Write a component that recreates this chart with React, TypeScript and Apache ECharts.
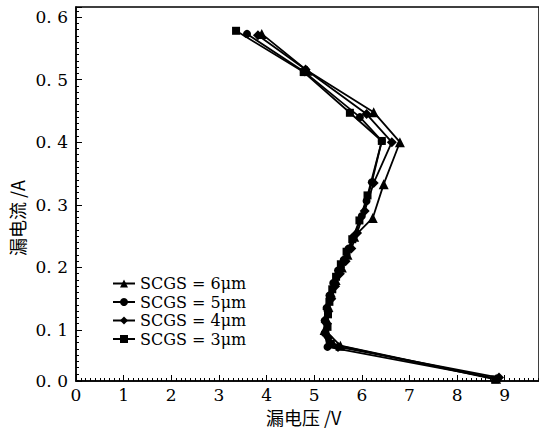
import React, { useEffect, useRef } from "react";
import * as echarts from "echarts";

const seriesNames = ["SCGS = 6μm", "SCGS = 5μm", "SCGS = 4μm", "SCGS = 3μm"];
const seriesSymbols = ["triangle", "circle", "diamond", "rect"];

const v6 = [8.82, 5.55, 5.22, 5.24, 5.28, 5.35, 5.45, 5.58, 5.70, 5.84, 6.23, 6.46, 6.80, 6.25, 4.86, 3.90];
const a6 = [0.022, 0.075, 0.100, 0.120, 0.140, 0.160, 0.180, 0.200, 0.220, 0.249, 0.279, 0.333, 0.400, 0.448, 0.514, 0.573];

const v5 = [8.85, 5.28, 5.22, 5.22, 5.26, 5.32, 5.40, 5.50, 5.62, 5.72, 5.83, 6.00, 6.10, 6.21, 6.42, 5.96, 4.80, 3.59];
const a5 = [0.022, 0.073, 0.095, 0.115, 0.135, 0.155, 0.175, 0.195, 0.212, 0.230, 0.249, 0.282, 0.306, 0.336, 0.402, 0.440, 0.512, 0.573];

const v4 = [8.88, 5.50, 5.30, 5.27, 5.30, 5.36, 5.44, 5.54, 5.66, 5.78, 5.90, 6.06, 6.25, 6.63, 6.10, 4.82, 3.82];
const a4 = [0.024, 0.073, 0.088, 0.110, 0.130, 0.150, 0.170, 0.190, 0.210, 0.230, 0.255, 0.290, 0.335, 0.400, 0.445, 0.516, 0.571];

const v3 = [8.80, 5.35, 5.28, 5.29, 5.32, 5.38, 5.46, 5.56, 5.68, 5.80, 5.95, 6.12, 6.42, 5.75, 4.78, 3.36];
const a3 = [0.021, 0.078, 0.105, 0.125, 0.145, 0.165, 0.185, 0.205, 0.225, 0.245, 0.275, 0.315, 0.402, 0.447, 0.512, 0.578];

const xTitle = "漏电压 /V";
const yTitle = "漏电流 /A";

const seriesV = [v6, v5, v4, v3];
const seriesA = [a6, a5, a4, a3];
const symbolSizes = [10, 8, 10, 8];

const FONT = "DejaVu Serif";

export default function App() {
  const ref = useRef<HTMLDivElement>(null);
  useEffect(() => {
    if (!ref.current) return;
    const chart = echarts.init(ref.current, null, { renderer: "svg" });
    const series = seriesNames.map((name, i) => ({
      name,
      type: "line",
      data: seriesV[i].map((v, j) => [v, seriesA[i][j]]),
      symbol: seriesSymbols[i],
      symbolSize: symbolSizes[i],
      showAllSymbol: true,
      lineStyle: { color: "#000", width: 1.8 },
      itemStyle: { color: "#000" },
      z: 2,
    }));
    chart.setOption({
      animation: false,
      backgroundColor: "#fff",
      grid: {
        left: 76,
        right: -2,
        top: 7,
        bottom: 49,
        show: true,
        borderColor: "#000",
        borderWidth: 1.5,
        backgroundColor: "transparent",
      },
      legend: {
        orient: "vertical",
        left: 107,
        top: 270,
        itemWidth: 22,
        itemHeight: 10,
        itemGap: 1.5,
        textStyle: { fontFamily: FONT, fontSize: 16, lineHeight: 17, color: "#000" },
        data: seriesNames,
      },
      xAxis: {
        type: "value",
        min: 0,
        max: 9.72,
        interval: 1,
        axisLine: { show: true, lineStyle: { color: "#000", width: 1.5 } },
        axisTick: { show: true, inside: true, length: 6, lineStyle: { color: "#000", width: 1 } },
        minorTick: { show: true, splitNumber: 10, length: 3, lineStyle: { color: "#000", width: 1 } },
        splitLine: { show: false },
        minorSplitLine: { show: false },
        axisLabel: { fontFamily: FONT, fontSize: 17, color: "#000", margin: 5, showMaxLabel: false },
      },
      yAxis: {
        type: "value",
        min: 0.0185,
        max: 0.616,
        splitNumber: 6,
        axisLine: { show: true, lineStyle: { color: "#000", width: 1.5 } },
        axisTick: { show: true, inside: true, length: 6, lineStyle: { color: "#000", width: 1 } },
        minorTick: { show: true, splitNumber: 10, length: 3, lineStyle: { color: "#000", width: 1 } },
        splitLine: { show: false },
        minorSplitLine: { show: false },
        axisLabel: {
          fontFamily: FONT,
          fontSize: 17,
          color: "#000",
          margin: 8,
          showMaxLabel: false,
          showMinLabel: true,
          formatter: (v: number) => (v < 0.05 ? 0 : v).toFixed(1).replace(".", ". "),
        },
      },
      graphic: [
        {
          type: "text",
          x: 266,
          y: 408,
          style: { text: xTitle, fontFamily: "Noto Sans CJK SC", fontSize: 18, fill: "#000" },
        },
        {
          type: "text",
          x: 8,
          y: 256,
          rotation: Math.PI / 2,
          style: { text: yTitle, fontFamily: "Noto Sans CJK SC", fontSize: 18, fill: "#000" },
        },
      ],
      series,
    });
    return () => chart.dispose();
  }, []);
  return (
    <div
      ref={ref}
      style={{ position: "fixed", left: 0, top: 0, width: 539, height: 430, background: "#fff" }}
    />
  );
}
